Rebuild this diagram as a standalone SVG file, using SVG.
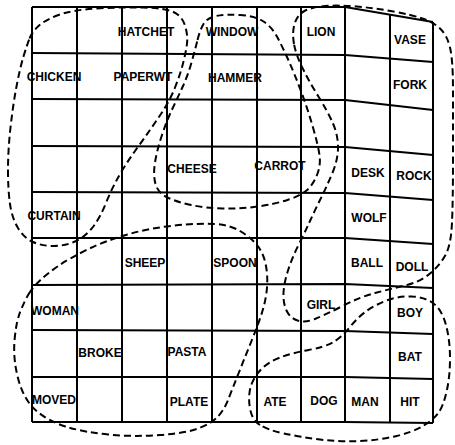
<svg xmlns="http://www.w3.org/2000/svg" width="455" height="445" viewBox="0 0 455 445">
<style>
.grid{fill:none;stroke:#000;stroke-width:2;stroke-linejoin:round}
.region{fill:none;stroke:#000;stroke-width:2;stroke-dasharray:7 4;stroke-linecap:butt}
text{font-family:"Liberation Sans",Arial,sans-serif;font-weight:bold;font-size:12px;text-anchor:middle;fill:#000}
</style>
<rect width="455" height="445" fill="#fff"/>
<g id="grid" class="grid">
<polyline points="32,7 345,7 433,22"/>
<polyline points="32,53 345,55 433,62"/>
<polyline points="32,99 345,100 433,110"/>
<polyline points="32,146 345,147 433,155"/>
<polyline points="32,192 345,193 433,200"/>
<polyline points="32,238 345,238 433,244"/>
<polyline points="32,285 345,284 433,288"/>
<polyline points="32,330 345,331 433,334"/>
<polyline points="32,377 345,377 433,379"/>
<polyline points="32,422 345,422 433,423"/>
<line x1="32" y1="7" x2="32" y2="422"/>
<line x1="77" y1="7" x2="77" y2="422"/>
<line x1="122" y1="7" x2="122" y2="422"/>
<line x1="167" y1="7" x2="167" y2="422"/>
<line x1="212" y1="7" x2="212" y2="422"/>
<line x1="257" y1="7" x2="257" y2="422"/>
<line x1="301" y1="7" x2="301" y2="422"/>
<line x1="345" y1="7" x2="345" y2="422"/>
<line x1="390" y1="15" x2="390" y2="423"/>
<line x1="433" y1="22" x2="433" y2="423"/>
</g>
<g id="labels">
<g id="n-hatchet"><text x="146" y="36">HATCHET</text></g>
<g id="n-window"><text x="232" y="36">WINDOW</text></g>
<g id="n-lion"><text x="321" y="36">LION</text></g>
<g id="n-vase"><text x="410" y="44">VASE</text></g>
<g id="n-chicken"><text x="54" y="81">CHICKEN</text></g>
<g id="n-paperwt"><text x="143" y="81">PAPERWT</text></g>
<g id="n-hammer"><text x="235" y="82">HAMMER</text></g>
<g id="n-fork"><text x="410" y="89">FORK</text></g>
<g id="n-cheese"><text x="192" y="173">CHEESE</text></g>
<g id="n-carrot"><text x="280" y="170">CARROT</text></g>
<g id="n-desk"><text x="368" y="177">DESK</text></g>
<g id="n-rock"><text x="414" y="180">ROCK</text></g>
<g id="n-curtain"><text x="54" y="220">CURTAIN</text></g>
<g id="n-wolf"><text x="369" y="222">WOLF</text></g>
<g id="n-sheep"><text x="145" y="267">SHEEP</text></g>
<g id="n-spoon"><text x="235" y="267">SPOON</text></g>
<g id="n-ball"><text x="367" y="267">BALL</text></g>
<g id="n-doll"><text x="412" y="271">DOLL</text></g>
<g id="n-woman"><text x="55" y="315">WOMAN</text></g>
<g id="n-girl"><text x="321" y="309">GIRL</text></g>
<g id="n-boy"><text x="410" y="317">BOY</text></g>
<g id="n-broke"><text x="100" y="357">BROKE</text></g>
<g id="n-pasta"><text x="187" y="356">PASTA</text></g>
<g id="n-bat"><text x="410" y="361">BAT</text></g>
<g id="n-moved"><text x="54" y="404">MOVED</text></g>
<g id="n-plate"><text x="189" y="406">PLATE</text></g>
<g id="n-ate"><text x="275" y="406">ATE</text></g>
<g id="n-dog"><text x="324" y="405">DOG</text></g>
<g id="n-man"><text x="365" y="406">MAN</text></g>
<g id="n-hit"><text x="410" y="406">HIT</text></g>
</g>
<g id="regions">
<path id="region1" class="region" d="M29.5,38.5 Q32,32 38.5,26 Q45,20 58.5,15 Q72,10 96,8.5 Q120,7 142.5,7.5 Q165,8 173.5,12 Q182,16 185,25.5 Q188,35 187,43.5 Q186,52 183,63.5 Q180,75 175,87.5 Q170,100 163.5,110 Q157,120 150,130 Q143,140 135,151 Q127,162 119.5,175 Q112,188 106,203 Q100,218 92.5,227.5 Q85,237 75,241.5 Q65,246 53.5,246 Q42,246 33,242 Q24,238 18,228 Q12,218 10,204 Q8,190 8,170 Q8,150 10.5,127.5 Q13,105 16.5,86.5 Q20,68 23.5,56.5 Q27,45 29.5,38.5 Z"/>
<path id="region2" class="region" d="M197.5,40 Q200,30 203.5,24 Q207,18 216,16 Q225,14 240,15 Q255,16 263.5,21.5 Q272,27 277.5,37.5 Q283,48 289,61.5 Q295,75 301.5,92.5 Q308,110 313,127.5 Q318,145 319.5,155 Q321,165 317,175 Q313,185 306.5,190.5 Q300,196 287.5,200 Q275,204 257.5,206.5 Q240,209 222.5,208.5 Q205,208 191,205 Q177,202 167.5,197.5 Q158,193 155.5,184 Q153,175 155,162.5 Q157,150 162,135 Q167,120 172.5,108.5 Q178,97 183,86 Q188,75 191.5,62.5 Q195,50 197.5,40 Z"/>
<path id="region3" class="region" d="M294,44 Q292,33 294.5,24 Q297,15 304.5,11 Q312,7 325,6 Q338,5 356.5,6.5 Q375,8 393.5,11.5 Q412,15 422.5,18.5 Q433,22 440,28.5 Q447,35 450,47.5 Q453,60 453,90 Q453,120 453,160 Q453,200 452,222.5 Q451,245 445.5,255 Q440,265 430,273.5 Q420,282 405,285.5 Q390,289 375,293 Q360,297 342.5,306 Q325,315 315,319 Q305,323 297.5,320.5 Q290,318 286.5,310.5 Q283,303 283.5,293 Q284,283 288,270.5 Q292,258 298.5,245 Q305,232 310,221 Q315,210 320.5,199 Q326,188 332,174 Q338,160 338,147.5 Q338,135 333,123.5 Q328,112 319,97.5 Q310,83 303,69 Q296,55 294,44 Z"/>
<path id="region4" class="region" d="M29,293.5 Q33,287 40.5,280 Q48,273 59,265.5 Q70,258 87.5,249.5 Q105,241 127.5,234.5 Q150,228 175,225.5 Q200,223 215,224 Q230,225 240,231 Q250,237 256.5,244.5 Q263,252 265.5,263.5 Q268,275 267,287.5 Q266,300 262,312.5 Q258,325 251.5,341 Q245,357 238.5,373.5 Q232,390 228,400 Q224,410 218,416.5 Q212,423 199.5,428 Q187,433 160,435 Q133,437 108,434.5 Q83,432 65.5,426.5 Q48,421 36,410.5 Q24,400 18.5,380 Q13,360 14.5,341 Q16,322 20.5,311 Q25,300 29,293.5 Z"/>
<path id="region5" class="region" d="M260,425 Q252,420 250,408.5 Q248,397 250.5,387.5 Q253,378 260.5,370 Q268,362 280,357.5 Q292,353 308.5,350 Q325,347 333.5,342 Q342,337 350,327 Q358,317 366.5,311 Q375,305 386.5,300.5 Q398,296 411.5,296.5 Q425,297 433.5,303.5 Q442,310 446,325 Q450,340 450,358.5 Q450,377 446.5,392 Q443,407 438,413.5 Q433,420 423,426 Q413,432 396.5,436 Q380,440 360,441 Q340,442 320,439.5 Q300,437 284,433.5 Q268,430 260,425 Z"/>
</g>
</svg>
